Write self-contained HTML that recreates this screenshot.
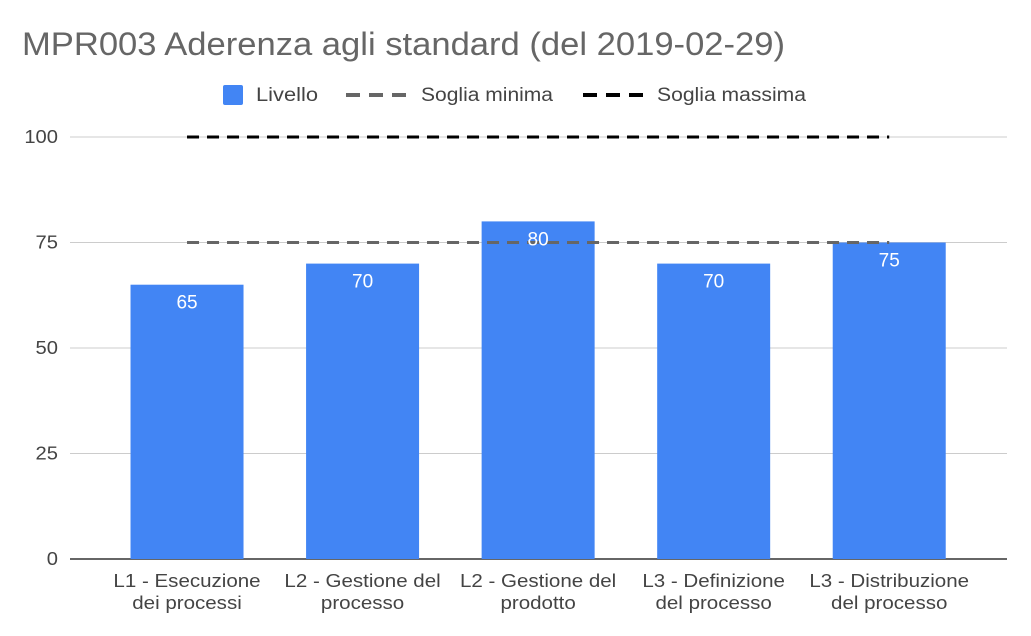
<!DOCTYPE html>
<html><head><meta charset="utf-8"><style>
body{margin:0;background:#fff;}
svg{display:block;font-family:"Liberation Sans",Arial,sans-serif;}
</style></head><body>
<svg id="chart" width="1031" height="636">
<text x="22" y="55" font-size="32" fill="#666" textLength="763" lengthAdjust="spacingAndGlyphs">MPR003 Aderenza agli standard (del 2019-02-29)</text>
<g>
<g><rect x="223" y="85" width="20" height="20" rx="2" fill="#4285f4"/><text x="256" y="101" font-size="19" fill="#444" textLength="62" lengthAdjust="spacingAndGlyphs">Livello</text></g>
<g><line x1="346" y1="95" x2="406" y2="95" stroke="#666" stroke-width="4" stroke-dasharray="14,9"/><text x="421" y="101" font-size="19" fill="#444" textLength="132" lengthAdjust="spacingAndGlyphs">Soglia minima</text></g>
<g><line x1="583" y1="95" x2="643" y2="95" stroke="#000" stroke-width="4" stroke-dasharray="14,9"/><text x="657" y="101" font-size="19" fill="#444" textLength="149" lengthAdjust="spacingAndGlyphs">Soglia massima</text></g>
</g>
<g id="grid"></g><g id="bars"></g><g id="lines"></g><g id="labels"></g>
</svg>
<script>
const categories=[["L1 - Esecuzione","dei processi"],["L2 - Gestione del","processo"],["L2 - Gestione del","prodotto"],["L3 - Definizione","del processo"],["L3 - Distribuzione","del processo"]];
const livello=[65,70,80,70,75];
const sogliaMinima=[75,75,75,75,75];
const sogliaMassima=[100,100,100,100,100];
const yTicks=[0,25,50,75,100];
const NS="http://www.w3.org/2000/svg";
const y0=559,y1=137,xL=99.25,xR=977,axL=70,axR=1007;
const y=v=>y0-(v/100)*(y0-y1);
const band=(xR-xL)/categories.length;
const xc=i=>xL+band*(i+0.5);
const bw=113;
function mk(t,a,p){const e=document.createElementNS(NS,t);for(const k in a)e.setAttribute(k,a[k]);p.appendChild(e);return e;}
function widen(t,f){const w=t.getComputedTextLength();t.setAttribute('textLength',w*f);t.setAttribute('lengthAdjust','spacingAndGlyphs');}
const G=document.getElementById('grid'),B=document.getElementById('bars'),L=document.getElementById('lines'),T=document.getElementById('labels');
yTicks.forEach(v=>{
 const g=mk('line',{x1:axL,x2:axR,y1:y(v),y2:y(v),stroke:v===0?'#333':'#ccc','stroke-width':v===0?1.5:1},G);
 
 
 const t=mk('text',{x:58,y:y(v)+6,'text-anchor':'end','font-size':18,fill:'#444'},G);
 t.textContent=v;
 
 
 widen(t,1.12);
});
livello.forEach((v,i)=>{
 const r=mk('rect',{x:xc(i)-bw/2,y:y(v),width:bw,height:y0-y(v),fill:'#4285f4'},B);
 
 
 const t=mk('text',{x:xc(i),y:y(v)+24,'text-anchor':'middle','font-size':19,fill:'#fff'},T);
 t.textContent=v;
 
 
 categories[i].forEach((s,j)=>{
  const c=mk('text',{x:xc(i),y:587+j*22,'text-anchor':'middle','font-size':18,fill:'#444'},T);
  c.textContent=s;
  
  
  widen(c,1.14);
 });
});
function series(arr,col,name){
 const pts=arr.map((v,i)=>xc(i)+','+y(v)).join(' ');
 const p=mk('polyline',{points:pts,fill:'none',stroke:col,'stroke-width':3,'stroke-dasharray':'12,8'},L);
 
 
}
series(sogliaMinima,'#666','line-soglia-minima');
series(sogliaMassima,'#000','line-soglia-massima');
</script>
</body></html>
